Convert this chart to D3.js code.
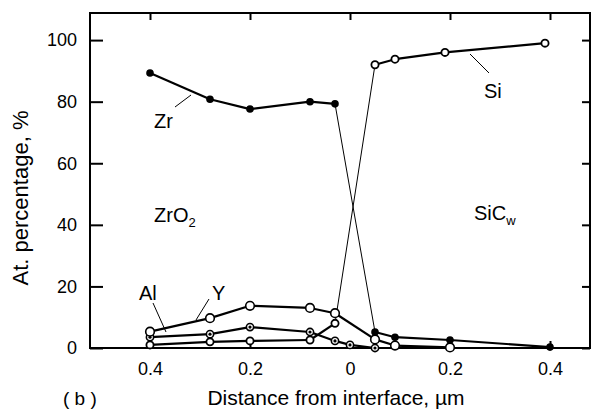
<!DOCTYPE html>
<html>
<head>
<meta charset="utf-8">
<script src="https://cdn.jsdelivr.net/npm/d3@7"></script>
<style>
  body { margin: 0; background: #fff; }
  text { font-family: "Liberation Sans", Arial, sans-serif; fill: #000; }
</style>
</head>
<body>
<svg id="chart"></svg>
<script>
// distance from interface: negative = ZrO2 side, positive = SiCw side
const zrX = [-0.4, -0.28, -0.2, -0.08, -0.03, 0.05, 0.09, 0.2, 0.4]
const zrY = [89.3, 80.8, 77.6, 80.0, 79.3, 5.2, 3.5, 2.6, 0.3]
const siX = [-0.4, -0.28, -0.2, -0.08, -0.03, 0.05, 0.09, 0.19, 0.39]
const siY = [1.0, 2.0, 2.3, 2.6, 8.0, 92.0, 93.8, 96.0, 99.0]
const yX = [-0.4, -0.28, -0.2, -0.08, -0.03, 0.05, 0.09, 0.2]
const yY = [5.3, 9.7, 13.7, 13.0, 11.3, 2.8, 0.8, 0.2]
const alX = [-0.4, -0.28, -0.2, -0.08, -0.03, 0.0, 0.05]
const alY = [3.5, 4.5, 6.8, 5.2, 2.3, 1.0, 0.0]
const xTicks = [-0.4, -0.2, 0, 0.2, 0.4]
const yTicks = [0, 20, 40, 60, 80, 100]

const width = 593, height = 414
const margin = { top: 13, right: 3, bottom: 66, left: 90 }
const w = width - margin.left - margin.right
const h = height - margin.top - margin.bottom

const svg = d3.select('#chart').attr('width', width).attr('height', height)
const g = svg.append('g').attr('transform', `translate(${margin.left},${margin.top})`)

const x = d3.scaleLinear().domain([-0.52, 0.48]).range([0, w])
const y = d3.scaleLinear().domain([0, 108.8]).range([h, 0])

const fmtX = d => d === 0 ? '0' : Math.abs(d).toFixed(1)

// axes, ticks pointing inward
g.append('g').attr('transform', `translate(0,${h})`)
  .call(d3.axisBottom(x).tickValues(xTicks).tickSize(-7).tickPadding(14).tickFormat(fmtX))
g.append('g').call(d3.axisTop(x).tickValues(xTicks).tickSize(-7).tickFormat(''))
g.append('g').call(d3.axisLeft(y).tickValues(yTicks).tickSize(-13).tickPadding(13))
g.append('g').attr('transform', `translate(${w},0)`)
  .call(d3.axisRight(y).tickValues(yTicks).tickSize(-8).tickFormat(''))
g.selectAll('.tick line').attr('stroke-width', 2)
g.selectAll('.tick text').attr('font-size', 18).attr('font-family', '"Liberation Sans", Arial, sans-serif')
g.selectAll('.domain').attr('d', null)
g.append('rect').attr('width', w).attr('height', h)
  .attr('fill', 'none').attr('stroke', '#000').attr('stroke-width', 2)

function series(xs, ys) { return xs.map((v, i) => ({ x: v, y: ys[i] })) }

function drawSeries(pts, marker) {
  const segs = d3.pairs(pts)
  g.append('g').selectAll('line').data(segs).enter().append('line')
    .attr('x1', d => x(d[0].x)).attr('y1', d => y(d[0].y))
    .attr('x2', d => x(d[1].x)).attr('y2', d => y(d[1].y))
    .attr('stroke', '#000')
    .attr('stroke-width', d => Math.abs(d[1].y - d[0].y) > 30 ? 1 : 2.2)
  const m = g.append('g').selectAll('g').data(pts).enter().append('g')
    .attr('transform', d => `translate(${x(d.x)},${y(d.y)})`)
  if (marker === 'filled') {
    m.append('circle').attr('r', 3.8).attr('fill', '#000')
  } else if (marker === 'open') {
    m.append('circle').attr('r', 4.3).attr('fill', '#fff').attr('stroke', '#000').attr('stroke-width', 1.6)
  } else if (marker === 'dot') {
    m.append('circle').attr('r', 3.6).attr('fill', '#fff').attr('stroke', '#000').attr('stroke-width', 1.6)
    m.append('circle').attr('r', 1.6).attr('fill', '#000')
  } else {
    m.append('circle').attr('r', 3.6).attr('fill', '#fff').attr('stroke', '#000').attr('stroke-width', 1.8)
  }
}

drawSeries(series(siX, siY), 'small')
drawSeries(series(alX, alY), 'dot')
drawSeries(series(yX, yY), 'open')
drawSeries(series(zrX, zrY), 'filled')

// leaders and labels (page coords)
const ann = svg.append('g')
const leaders = [[175, 107, 191, 95], [489, 73, 470, 54], [153, 303, 166, 332], [209, 299, 196, 320]]
ann.selectAll('line').data(leaders).enter().append('line')
  .attr('x1', d => d[0]).attr('y1', d => d[1]).attr('x2', d => d[2]).attr('y2', d => d[3])
  .attr('stroke', '#000').attr('stroke-width', 1)

const label = (tx, ty, str, size, anchor) => ann.append('text')
  .attr('x', tx).attr('y', ty).attr('font-size', size).attr('text-anchor', anchor || 'start').text(str)
label(154, 128, 'Zr', 20)
label(484, 98, 'Si', 20)
label(139, 300, 'Al', 20)
label(212, 300, 'Y', 20)

const zro = label(154, 222, 'ZrO', 20)
zro.append('tspan').attr('font-size', 13).attr('dy', 5).text('2')
const sic = label(474, 220, 'SiC', 20)
sic.append('tspan').attr('font-size', 13).attr('dy', 5).text('w')

label(63, 405, '( b )', 19)
label(336, 405, 'Distance from interface, \u00b5m', 21, 'middle')
ann.append('text').attr('transform', 'translate(28,198) rotate(-90)')
  .attr('font-size', 22).attr('text-anchor', 'middle').text('At. percentage, %')
</script>
</body>
</html>
